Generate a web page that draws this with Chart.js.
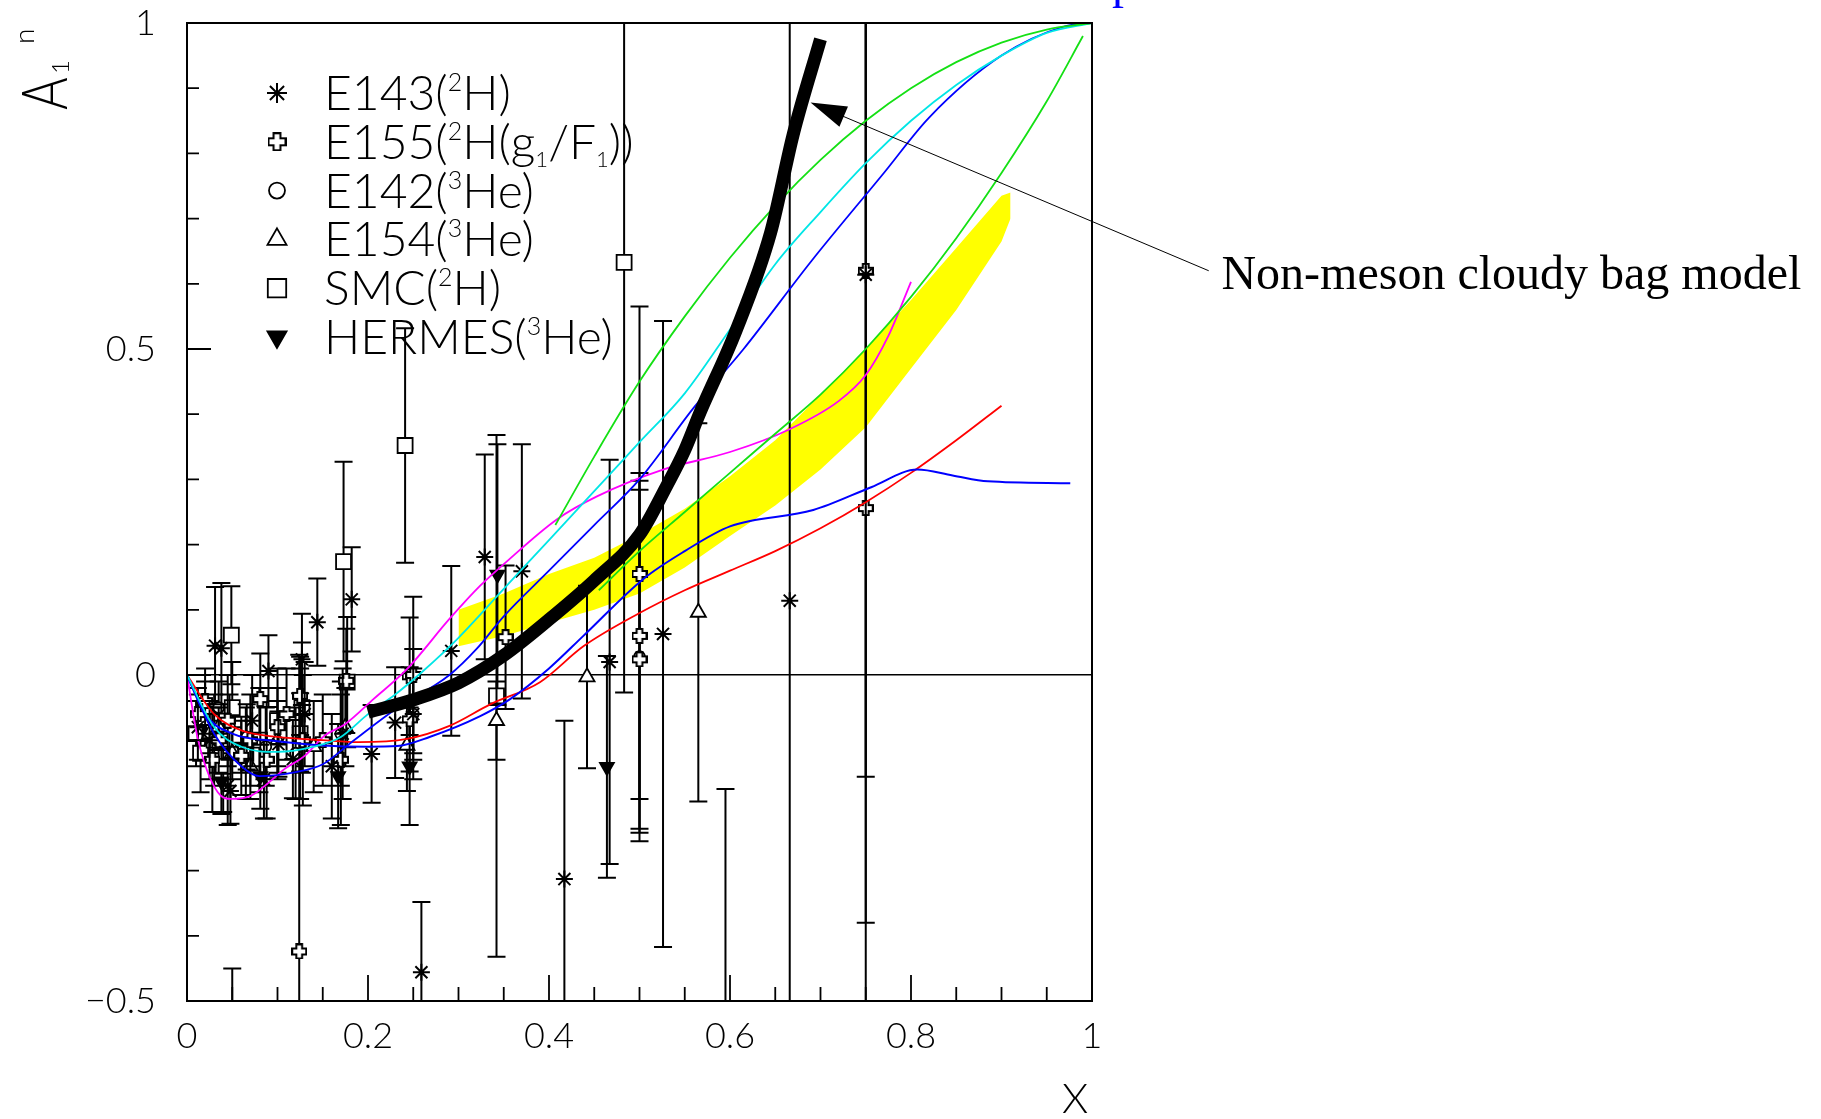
<!DOCTYPE html>
<html>
<head>
<meta charset="utf-8">
<title>A1n versus x</title>
<script src="https://cdn.jsdelivr.net/npm/chart.js@4.4.0/dist/chart.umd.min.js"></script>
<style>
  html, body { margin: 0; padding: 0; background: #fff; }
  #plot { display: block; }
</style>
</head>
<body>
<canvas id="plot" width="1821" height="1119"></canvas>
<script>
// ---- axis ticks ----
const xTicks = [0, 0.2, 0.4, 0.6, 0.8, 1];
const yTicks = [-0.5, 0, 0.5, 1];
const yTickText = ['\u22120.5', '0', '0.5', '1'];

// ---- data points: x, A1n, error ----
const e143X = [0.012, 0.025, 0.031, 0.038, 0.045, 0.048, 0.05, 0.072, 0.085, 0.09, 0.101, 0.117, 0.127, 0.13, 0.144, 0.16, 0.172, 0.182, 0.204, 0.23, 0.25, 0.259, 0.292, 0.329, 0.37, 0.417, 0.467, 0.526, 0.666, 0.75];
const e143Y = [-0.08, -0.1, 0.045, 0.041, -0.17, -0.178, -0.62, -0.07, -0.16, 0.006, -0.106, -0.129, 0.024, -0.06, 0.081, -0.14, -0.09, 0.116, -0.121, -0.073, -0.06, -0.456, 0.037, 0.181, 0.159, -0.313, 0.02, 0.063, 0.114, 0.614];
const e143E = [0.05, 0.06, 0.09, 0.1, 0.06, 0.05, 0.17, 0.07, 0.06, 0.055, 0.05, 0.06, 0.07, 0.08, 0.067, 0.08, 0.1, 0.08, 0.075, 0.085, 0.07, 0.108, 0.13, 0.157, 0.195, 0.243, 0.31, 0.48, 1.2, 0.77];

const e155X = [0.012, 0.02, 0.028, 0.035, 0.045, 0.06, 0.07, 0.081, 0.088, 0.1, 0.11, 0.125, 0.124, 0.128, 0.15, 0.17, 0.176, 0.246, 0.246, 0.25, 0.352, 0.5, 0.5, 0.5, 0.75, 0.75];
const e155Y = [-0.06, -0.04, -0.13, -0.1, -0.07, -0.124, -0.1, -0.037, -0.13, -0.08, -0.06, -0.032, -0.424, -0.1, -0.1, -0.13, -0.009, -0.002, -0.068, 0.0, 0.058, 0.155, 0.06, 0.024, 0.256, 0.62];
const e155E = [0.04, 0.05, 0.08, 0.05, 0.07, 0.06, 0.07, 0.07, 0.09, 0.06, 0.07, 0.06, 0.455, 0.1, 0.07, 0.1, 0.08, 0.09, 0.08, 0.12, 0.11, 0.41, 0.25, 0.26, 1.3, 1.0];

const e142X = [0.035, 0.047, 0.066, 0.087, 0.12, 0.17, 0.25, 0.5];
const e142Y = [-0.05, -0.08, -0.095, -0.11, -0.12, -0.09, -0.06, 0.028];
const e142E = [0.04, 0.05, 0.05, 0.06, 0.07, 0.08, 0.1, 0.27];

const e154X = [0.017, 0.025, 0.035, 0.05, 0.07, 0.1, 0.14, 0.175, 0.243, 0.342, 0.442, 0.565, 0.595];
const e154Y = [-0.07, -0.09, -0.08, -0.12, -0.14, -0.1, -0.11, -0.08, -0.108, -0.07, -0.003, 0.096, -0.75];
const e154E = [0.03, 0.03, 0.035, 0.04, 0.05, 0.06, 0.07, 0.06, 0.07, 0.06, 0.14, 0.29, 0.575];

const smcX = [0.01, 0.015, 0.02, 0.03, 0.04, 0.049, 0.05, 0.065, 0.08, 0.1, 0.125, 0.127, 0.173, 0.177, 0.241, 0.342, 0.483];
const smcY = [-0.09, -0.12, -0.06, -0.1, -0.14, 0.061, -0.05, -0.12, -0.1, -0.07, -0.09, -0.05, 0.174, -0.011, 0.352, -0.032, 0.633];
const smcE = [0.05, 0.06, 0.05, 0.07, 0.07, 0.075, 0.07, 0.07, 0.08, 0.08, 0.1, 0.1, 0.153, 0.1, 0.18, 0.4, 0.66];

const hermesX = [0.021, 0.038, 0.06, 0.081, 0.125, 0.167, 0.246, 0.343, 0.464];
const hermesY = [-0.09, -0.163, -0.11, -0.155, -0.088, -0.155, -0.14, 0.154, -0.141];
const hermesE = [0.03, 0.05, 0.04, 0.05, 0.06, 0.08, 0.09, 0.2, 0.17];

// ---- model curves ----
const cbmX = [0.2, 0.25, 0.3, 0.35, 0.4, 0.45, 0.5, 0.53, 0.55, 0.567, 0.606, 0.645, 0.67, 0.7];
const cbmY = [-0.057, -0.038, -0.012, 0.03, 0.085, 0.145, 0.215, 0.29, 0.345, 0.403, 0.526, 0.679, 0.83, 0.975];

const greenAX = [0.407, 0.45, 0.5, 0.55, 0.6, 0.65, 0.7, 0.75, 0.8, 0.85, 0.9, 0.95, 1.0];
const greenAY = [0.23, 0.335, 0.45, 0.55, 0.64, 0.72, 0.79, 0.85, 0.9, 0.94, 0.97, 0.99, 1.0];

const greenBX = [0.455, 0.5, 0.55, 0.6, 0.65, 0.7, 0.75, 0.8, 0.85, 0.9, 0.95, 0.99];
const greenBY = [0.13, 0.19, 0.25, 0.31, 0.37, 0.43, 0.5, 0.58, 0.67, 0.77, 0.88, 0.98];

const cyanX = [0, 0.03, 0.06, 0.1, 0.14, 0.17, 0.2, 0.23, 0.26, 0.3, 0.35, 0.4, 0.45, 0.5, 0.55, 0.6, 0.65, 0.7, 0.75, 0.8, 0.85, 0.9, 0.95, 1.0];
const cyanY = [0, -0.08, -0.11, -0.118, -0.11, -0.095, -0.06, -0.03, 0.005, 0.057, 0.132, 0.207, 0.282, 0.357, 0.432, 0.53, 0.63, 0.71, 0.785, 0.85, 0.905, 0.95, 0.985, 1.0];

const blueAX = [0, 0.03, 0.06, 0.08, 0.12, 0.15, 0.18, 0.23, 0.29, 0.32, 0.35, 0.4, 0.45, 0.5, 0.56, 0.615, 0.69, 0.77, 0.82, 0.9, 0.97, 1.0];
const blueAY = [0, -0.09, -0.14, -0.155, -0.149, -0.137, -0.105, -0.053, 0.0, 0.04, 0.09, 0.16, 0.23, 0.3, 0.41, 0.5, 0.635, 0.77, 0.855, 0.95, 0.995, 1.0];

const blueBX = [0, 0.02, 0.05, 0.095, 0.15, 0.2, 0.232, 0.268, 0.324, 0.357, 0.4, 0.438, 0.504, 0.55, 0.6, 0.692, 0.756, 0.807, 0.846, 0.885, 0.976];
const blueBY = [0, -0.06, -0.09, -0.101, -0.108, -0.11, -0.109, -0.095, -0.063, -0.037, 0.01, 0.06, 0.147, 0.19, 0.228, 0.253, 0.288, 0.315, 0.306, 0.297, 0.294];

const redX = [0, 0.03, 0.06, 0.1, 0.15, 0.19, 0.243, 0.29, 0.335, 0.39, 0.438, 0.5, 0.55, 0.6, 0.65, 0.7, 0.75, 0.8, 0.85, 0.9];
const redY = [0, -0.06, -0.085, -0.095, -0.1, -0.103, -0.098, -0.078, -0.045, -0.011, 0.044, 0.095, 0.13, 0.16, 0.19, 0.225, 0.265, 0.31, 0.36, 0.413];

const magentaX = [0, 0.012, 0.034, 0.049, 0.071, 0.086, 0.108, 0.13, 0.152, 0.175, 0.206, 0.243, 0.29, 0.324, 0.35, 0.409, 0.453, 0.526, 0.6, 0.666, 0.72, 0.75, 0.775, 0.8];
const magentaY = [0, -0.098, -0.18, -0.19, -0.185, -0.17, -0.144, -0.124, -0.093, -0.075, -0.037, 0.009, 0.086, 0.137, 0.17, 0.239, 0.274, 0.315, 0.342, 0.377, 0.42, 0.46, 0.52, 0.603];

// yellow band
const bandX = [0.3, 0.35, 0.4, 0.45, 0.5, 0.55, 0.6, 0.65, 0.7, 0.75, 0.8, 0.85, 0.9, 0.91];
const bandHigh = [0.1, 0.125, 0.155, 0.18, 0.215, 0.255, 0.305, 0.36, 0.43, 0.5, 0.575, 0.655, 0.735, 0.74];
const bandLow = [0.044, 0.06, 0.08, 0.1, 0.125, 0.165, 0.213, 0.26, 0.315, 0.38, 0.47, 0.56, 0.665, 0.7];

// legend rows: text pieces with 0 = normal, 1 = superscript, -1 = subscript
const legendLabels = [
  [['E143(', 0], ['2', 1], ['H)', 0]],
  [['E155(', 0], ['2', 1], ['H(g', 0], ['1', -1], ['/F', 0], ['1', -1], ['))', 0]],
  [['E142(', 0], ['3', 1], ['He)', 0]],
  [['E154(', 0], ['3', 1], ['He)', 0]],
  [['SMC(', 0], ['2', 1], ['H)', 0]],
  [['HERMES(', 0], ['3', 1], ['He)', 0]]
];

// annotation: arrow tip and text anchor in axis units
const noteText = 'Non-meson cloudy bag model';
const noteTip = { x: 0.689, y: 0.878 };
const noteTail = { x: 1.129, y: 0.62 };
const noteAnchor = { x: 1.143, y: 0.592 };

function pts(xs, ys) {
  return xs.map((x, i) => ({ x: x, y: ys[i] }));
}

// outlined plus marker
function makePlus(size) {
  const c = document.createElement('canvas');
  c.width = size;
  c.height = size;
  const g = c.getContext('2d');
  const m = 1, a = size * 0.32, b = size * 0.68, s = size - 1;
  g.beginPath();
  g.moveTo(a, m); g.lineTo(b, m); g.lineTo(b, a); g.lineTo(s, a); g.lineTo(s, b);
  g.lineTo(b, b); g.lineTo(b, s); g.lineTo(a, s); g.lineTo(a, b); g.lineTo(m, b);
  g.lineTo(m, a); g.lineTo(a, a); g.closePath();
  g.fillStyle = '#fff';
  g.fill();
  g.lineWidth = 2;
  g.strokeStyle = '#000';
  g.stroke();
  return c;
}
const plusMark = makePlus(16);
const plusLegend = makePlus(19);

const markerStyles = [
  { pointStyle: 'star', pointRadius: 8.5, pointBorderWidth: 2, legendRadius: 10 },
  { pointStyle: plusMark, pointRadius: 8, legendStyle: plusLegend, legendRadius: 9 },
  { pointStyle: 'circle', pointRadius: 5.5, legendRadius: 8 },
  { pointStyle: 'triangle', pointRadius: 8.7, legendRadius: 11 },
  { pointStyle: 'rect', pointRadius: 10.6, legendRadius: 13 },
  { pointStyle: 'triangle', pointRotation: 180, pointRadius: 8, pointBackgroundColor: '#000', legendRadius: 11 }
];

function markerSet(label, xs, ys, errs, style) {
  return Object.assign({
    label: label,
    data: pts(xs, ys),
    errors: errs,
    showLine: false,
    order: 10,
    pointBorderColor: '#000',
    pointBackgroundColor: '#fff',
    pointBorderWidth: 1.8
  }, style);
}

function curve(label, xs, ys, color, width, order) {
  return {
    label: label,
    data: pts(xs, ys),
    borderColor: color,
    borderWidth: width,
    pointRadius: 0,
    fill: false,
    cubicInterpolationMode: 'monotone',
    order: order
  };
}

// error bars are drawn just before the markers of their dataset
const errorBars = {
  id: 'errorBars',
  beforeDatasetDraw(chart, args) {
    const ds = chart.data.datasets[args.index];
    if (!ds.errors) return;
    const ctx = chart.ctx;
    const a = chart.chartArea;
    const xs = chart.scales.x, ys = chart.scales.y;
    const cap = 9;
    ctx.save();
    ctx.beginPath();
    ctx.rect(a.left, a.top, a.right - a.left, a.bottom - a.top);
    ctx.clip();
    ctx.strokeStyle = '#000';
    ctx.lineWidth = 2;
    ds.data.forEach((p, i) => {
      const px = xs.getPixelForValue(p.x);
      const top = ys.getPixelForValue(p.y + ds.errors[i]);
      const bot = ys.getPixelForValue(p.y - ds.errors[i]);
      ctx.beginPath();
      ctx.moveTo(px, top); ctx.lineTo(px, bot);
      ctx.moveTo(px - cap, top); ctx.lineTo(px + cap, top);
      ctx.moveTo(px - cap, bot); ctx.lineTo(px + cap, bot);
      ctx.stroke();
    });
    ctx.restore();
  }
};

// frame, inward ticks, axis titles, legend and annotation
const decorations = {
  id: 'decorations',
  afterDraw(chart) {
    const ctx = chart.ctx;
    const a = chart.chartArea;
    const xs = chart.scales.x, ys = chart.scales.y;
    ctx.save();

    // frame
    ctx.strokeStyle = '#000';
    ctx.lineWidth = 2;
    ctx.strokeRect(a.left, a.top, a.right - a.left, a.bottom - a.top);

    // inward ticks
    ctx.lineWidth = 1.8;
    ctx.beginPath();
    for (let i = 0; i <= 20; i++) {
      const px = xs.getPixelForValue(i * 0.05);
      const len = i % 4 === 0 ? 26 : 14;
      ctx.moveTo(px, a.bottom);
      ctx.lineTo(px, a.bottom - len);
    }
    for (let i = 0; i <= 15; i++) {
      const py = ys.getPixelForValue(-0.5 + i * 0.1);
      const len = i % 5 === 0 ? 24 : 12;
      ctx.moveTo(a.left, py);
      ctx.lineTo(a.left + len, py);
    }
    ctx.stroke();

    // x axis title
    ctx.fillStyle = '#000';
    ctx.font = '300 42px Lato';
    ctx.textAlign = 'center';
    ctx.textBaseline = 'alphabetic';
    ctx.fillText('X', a.right - 17, a.bottom + 112);

    // y axis title A_1^n, rotated
    ctx.save();
    ctx.translate(a.left - 120, a.top + 87);
    ctx.rotate(-Math.PI / 2);
    ctx.textAlign = 'left';
    ctx.save();
    ctx.scale(0.78, 1);
    ctx.font = '300 64px Lato';
    ctx.fillText('A', 0, 0);
    ctx.restore();
    ctx.font = '300 24px Lato';
    ctx.fillText('1', 36, 2);
    ctx.font = '300 28px Lato';
    ctx.fillText('n', 66, -33);
    ctx.restore();

    // legend
    const mx = a.left + 90, tx = a.left + 137;
    legendLabels.forEach((parts, row) => {
      const cy = a.top + 70 + row * 48.8;
      const st = markerStyles[row];
      ctx.fillStyle = st.pointBackgroundColor || '#fff';
      ctx.strokeStyle = '#000';
      ctx.lineWidth = st.pointBorderWidth || 1.8;
      Chart.helpers.drawPoint(ctx, {
        pointStyle: st.legendStyle || st.pointStyle,
        rotation: st.pointRotation || 0,
        radius: st.legendRadius,
        borderWidth: ctx.lineWidth
      }, mx, cy);

      ctx.fillStyle = '#000';
      ctx.textAlign = 'left';
      let x = tx;
      const base = cy + 17;
      parts.forEach(([txt, shift]) => {
        if (shift === 0) {
          ctx.font = '300 48px Lato';
          ctx.fillText(txt, x, base);
        } else if (shift > 0) {
          ctx.font = '300 25px Lato';
          ctx.fillText(txt, x, base - 19);
        } else {
          ctx.font = '300 22px Lato';
          ctx.fillText(txt, x, base + 8);
        }
        x += ctx.measureText(txt).width;
      });
    });

    // annotation arrow
    const tipX = xs.getPixelForValue(noteTip.x), tipY = ys.getPixelForValue(noteTip.y);
    const tailX = xs.getPixelForValue(noteTail.x), tailY = ys.getPixelForValue(noteTail.y);
    const ang = Math.atan2(tailY - tipY, tailX - tipX);
    ctx.strokeStyle = '#000';
    ctx.lineWidth = 1;
    ctx.beginPath();
    ctx.moveTo(tailX, tailY);
    ctx.lineTo(tipX + 30 * Math.cos(ang), tipY + 30 * Math.sin(ang));
    ctx.stroke();
    const hl = 36, hw = 11;
    ctx.beginPath();
    ctx.moveTo(tipX, tipY);
    ctx.lineTo(tipX + hl * Math.cos(ang) - hw * Math.sin(ang), tipY + hl * Math.sin(ang) + hw * Math.cos(ang));
    ctx.lineTo(tipX + hl * Math.cos(ang) + hw * Math.sin(ang), tipY + hl * Math.sin(ang) - hw * Math.cos(ang));
    ctx.closePath();
    ctx.fillStyle = '#000';
    ctx.fill();

    ctx.font = '48px "Liberation Serif"';
    ctx.textAlign = 'left';
    ctx.fillText(noteText, xs.getPixelForValue(noteAnchor.x), ys.getPixelForValue(noteAnchor.y));

    // tail of a heading cut off at the top edge
    ctx.fillStyle = '#0000ff';
    ctx.fillText('p', 1112, -2);

    ctx.restore();
  }
};

const datasets = [
  {
    label: 'band high', data: pts(bandX, bandHigh), fill: '+1', backgroundColor: '#ffff00',
    borderColor: 'rgba(0,0,0,0)', borderWidth: 0, pointRadius: 0, order: 20
  },
  {
    label: 'band low', data: pts(bandX, bandLow), fill: false,
    borderColor: 'rgba(0,0,0,0)', borderWidth: 0, pointRadius: 0, order: 20
  },
  markerSet('E143', e143X, e143Y, e143E, markerStyles[0]),
  markerSet('E155', e155X, e155Y, e155E, markerStyles[1]),
  markerSet('E142', e142X, e142Y, e142E, markerStyles[2]),
  markerSet('E154', e154X, e154Y, e154E, markerStyles[3]),
  markerSet('SMC', smcX, smcY, smcE, markerStyles[4]),
  markerSet('HERMES', hermesX, hermesY, hermesE, markerStyles[5]),
  curve('green a', greenAX, greenAY, '#14e014', 1.8, 5),
  curve('green b', greenBX, greenBY, '#14e014', 1.8, 5),
  curve('cyan', cyanX, cyanY, '#00e6e6', 1.8, 5),
  curve('blue a', blueAX, blueAY, '#0000ff', 1.8, 5),
  curve('blue b', blueBX, blueBY, '#0000ff', 2, 5),
  curve('red', redX, redY, '#ff0000', 1.8, 5),
  curve('magenta', magentaX, magentaY, '#ff00ff', 1.8, 5),
  curve('cbm', cbmX, cbmY, '#000000', 13, 1)
];

new Chart(document.getElementById('plot'), {
  type: 'line',
  data: { datasets: datasets },
  options: {
    responsive: false,
    animation: false,
    devicePixelRatio: 1,
    events: [],
    layout: { padding: { left: 0, right: 729, top: 23, bottom: 0 } },
    plugins: {
      legend: { display: false },
      tooltip: { enabled: false }
    },
    scales: {
      x: {
        type: 'linear',
        min: 0,
        max: 1,
        afterBuildTicks: scale => { scale.ticks = xTicks.map(v => ({ value: v })); },
        afterFit: scale => {
          scale.height = 118;
          scale.paddingLeft = 0;
          scale.paddingRight = 0;
        },
        grid: { display: false, drawTicks: false },
        border: { display: false },
        ticks: {
          autoSkip: false,
          maxRotation: 0,
          padding: 14,
          color: '#000',
          font: { family: 'Lato', size: 36, weight: '300' },
          callback: v => String(v)
        }
      },
      y: {
        type: 'linear',
        min: -0.5,
        max: 1,
        afterBuildTicks: scale => { scale.ticks = yTicks.map(v => ({ value: v })); },
        afterFit: scale => {
          scale.width = 187;
          scale.paddingTop = 0;
          scale.paddingBottom = 0;
        },
        grid: {
          drawTicks: false,
          lineWidth: 1.6,
          color: c => (c.tick && c.tick.value === 0 ? '#000' : 'rgba(0,0,0,0)')
        },
        border: { display: false },
        ticks: {
          autoSkip: false,
          padding: 31,
          color: '#000',
          font: { family: 'Lato', size: 36, weight: '300' },
          callback: (v, i) => yTickText[i]
        }
      }
    }
  },
  plugins: [errorBars, decorations]
});
</script>
</body>
</html>
